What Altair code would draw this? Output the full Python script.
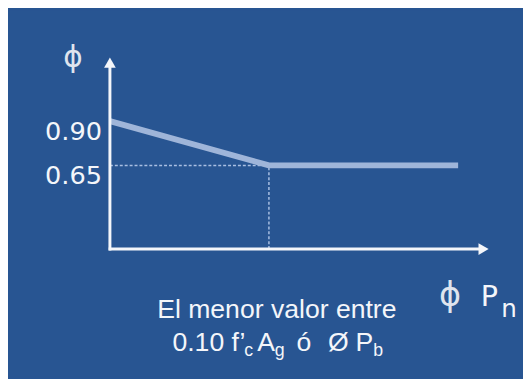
import altair as alt
import pandas as pd

# ---- data (schematic units) ----
pn_points = [0.0, 1.0, 2.19]          # phi*Pn positions: origin, limit, end
phi_points = [0.90, 0.65, 0.65]       # strength reduction factor
tick_values = [0.90, 0.65]
tick_labels = ["0.90", "0.65"]
axis_origin_phi = 0.178
axis_end_x = 2.33
axis_end_y = 1.23
limit_x = 1.0

BG = "#285592"
W, H = 523, 371
x_scale = alt.Scale(domain=[-0.641, 2.598], nice=False, zero=False)
y_scale = alt.Scale(domain=[-0.539, 1.522], nice=False, zero=False)

def X(field):
    return alt.X(field, type="quantitative", scale=x_scale, axis=None)

def Y(field):
    return alt.Y(field, type="quantitative", scale=y_scale, axis=None)

curve_df = pd.DataFrame({"x": pn_points, "y": phi_points})

axes_df = pd.DataFrame({
    "x": [0.0, -0.008],
    "y": [axis_origin_phi - 0.008, axis_origin_phi],
    "x2": [0.0, axis_end_x],
    "y2": [axis_end_y, axis_origin_phi],
})

arrow_up_df = pd.DataFrame({"x": [0.0], "y": [axis_end_y]})
arrow_right_df = pd.DataFrame({"x": [axis_end_x + 0.02], "y": [axis_origin_phi]})

dash_df = pd.DataFrame({
    "x": [0.0, limit_x],
    "y": [phi_points[1], axis_origin_phi],
    "x2": [limit_x, limit_x],
    "y2": [phi_points[1], phi_points[1]],
})

labels_df = pd.DataFrame({"x": [0.0, 0.0], "y": tick_values, "t": tick_labels})

axes = alt.Chart(axes_df).mark_rule(color="#f4f6fa", strokeWidth=3).encode(
    x=X("x"), y=Y("y"), x2="x2", y2="y2")

arrow_up = alt.Chart(arrow_up_df).mark_point(
    shape="triangle-up", filled=True, color="#f4f6fa", size=140, opacity=1
).encode(x=X("x"), y=Y("y"))

arrow_right = alt.Chart(arrow_right_df).mark_point(
    shape="triangle-right", filled=True, color="#f4f6fa", size=140, opacity=1
).encode(x=X("x"), y=Y("y"))

dashes = alt.Chart(dash_df).mark_rule(
    color="#a9bfe2", strokeWidth=1.5, strokeDash=[3, 2]
).encode(x=X("x"), y=Y("y"), x2="x2", y2="y2")

curve = alt.Chart(curve_df).mark_line(
    color="#9fb5d9", strokeWidth=6, strokeCap="butt", strokeJoin="round"
).encode(x=X("x"), y=Y("y"))

tick_text = alt.Chart(labels_df).mark_text(
    align="right", baseline="middle", dx=-8, dy=11,
    font="DejaVu Sans", fontSize=26, color="#f4f6fa"
).encode(x=X("x"), y=Y("y"), text="t")

def label(txt, x, y, size, font="Liberation Sans",
          align="left", baseline="alphabetic", color="#f4f6fa"):
    return alt.Chart(pd.DataFrame({"t": [txt]})).mark_text(
        align=align, baseline=baseline, font=font, fontSize=size, color=color
    ).encode(x=alt.value(x), y=alt.value(y), text="t")

SANS = "Liberation Sans"
texts = [
    label("ϕ", 66, 48, 30, font="DejaVu Sans", align="center", baseline="middle", color="#dfe4ee"),
    label("El menor valor entre", 273, 312, 27, font=SANS, align="center"),
    label("0.10 f’", 167, 345, 27, font=SANS),
    label("c", 240, 351, 18, font=SANS),
    label("A", 253, 345, 27, font=SANS),
    label("g", 271, 351, 18, font=SANS),
    label("ó", 293, 345, 27, font=SANS),
    label("Ø", 325, 345, 27, font=SANS),
    label("P", 353, 345, 27, font=SANS),
    label("b", 371, 351, 18, font=SANS),
    label("ϕ", 449, 290, 34, font="DejaVu Sans", align="center", baseline="middle", color="#dfe4ee"),
    label("P", 480, 300, 29, font="DejaVu Sans"),
    label("n", 501, 311, 25, font="DejaVu Sans"),
]

chart = alt.layer(dashes, curve, axes, arrow_up, arrow_right, tick_text, *texts).properties(
    width=W, height=H, background=BG, padding=0,
    autosize=alt.AutoSizeParams(type="none"),
).configure_view(stroke=None, fill=BG)

chart.save("out.html", embed_options={"renderer": "svg", "actions": False})
